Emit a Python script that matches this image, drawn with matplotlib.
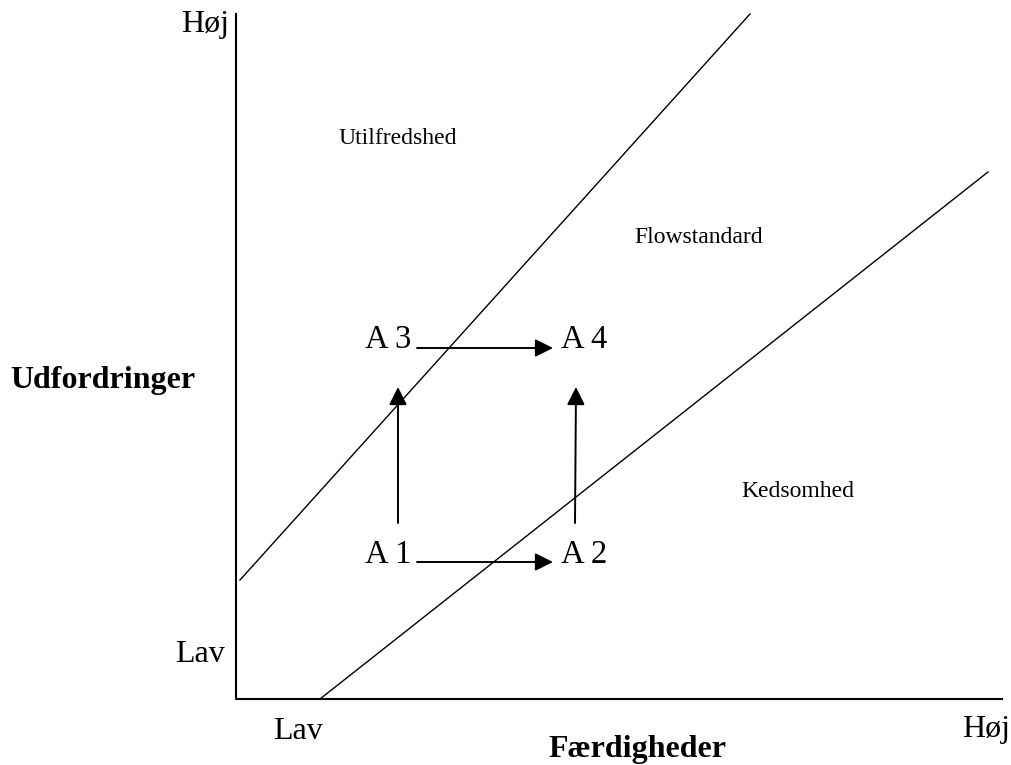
import matplotlib.pyplot as plt

plt.rcParams['font.family'] = ['Liberation Serif', 'DejaVu Serif']

# diagram coordinates in image pixels (y grows downward)
axis_x = [236, 236, 1002]
axis_y = [14, 699, 699]
line_upper_x = [240, 750]
line_upper_y = [580, 14]
line_lower_x = [320, 988]
line_lower_y = [699, 172]

states = ['A 1', 'A 2', 'A 3', 'A 4']
state_x = [388, 584, 388, 584]
state_y = [563, 563, 348, 348]  # baselines

# arrows: (start, end)
arrows = [((417, 562), (553, 562)),
          ((417, 348), (553, 348)),
          ((398, 523), (398, 387)),
          ((575, 523), (576, 387))]

zones = ['Utilfredshed', 'Flowstandard', 'Kedsomhed']
zone_x = [398, 699, 798]
zone_y = [144, 243, 497]

fig = plt.figure(figsize=(10.11, 7.65), dpi=100)
ax = fig.add_axes([0, 0, 1, 1])
ax.set_xlim(0, 1011)
ax.set_ylim(765, 0)
ax.axis('off')

ax.plot(axis_x, axis_y, color='black', lw=1.5)
ax.plot(line_upper_x, line_upper_y, color='black', lw=1.0)
ax.plot(line_lower_x, line_lower_y, color='black', lw=1.0)

for (x0, y0), (x1, y1) in arrows:
    ax.annotate('', xy=(x1, y1), xytext=(x0, y0),
                arrowprops=dict(arrowstyle='-|>', color='black', lw=1.4,
                                mutation_scale=27, shrinkA=0, shrinkB=0))

for s, x, y in zip(states, state_x, state_y):
    ax.text(x, y, s, fontsize=23.5, ha='center', va='baseline')

for z, x, y in zip(zones, zone_x, zone_y):
    ax.text(x, y, z, fontsize=17, ha='center', va='baseline')

ax.text(205, 32, 'Høj', fontsize=23, ha='center', va='baseline')
ax.text(200, 662, 'Lav', fontsize=23, ha='center', va='baseline')
ax.text(298, 739, 'Lav', fontsize=23, ha='center', va='baseline')
ax.text(986, 737, 'Høj', fontsize=23, ha='center', va='baseline')
ax.text(637, 757, 'Færdigheder', fontsize=23, fontweight='bold', ha='center', va='baseline')
ax.text(103, 388, 'Udfordringer', fontsize=23, fontweight='bold', ha='center', va='baseline')

fig.savefig('out.png', dpi=100)
